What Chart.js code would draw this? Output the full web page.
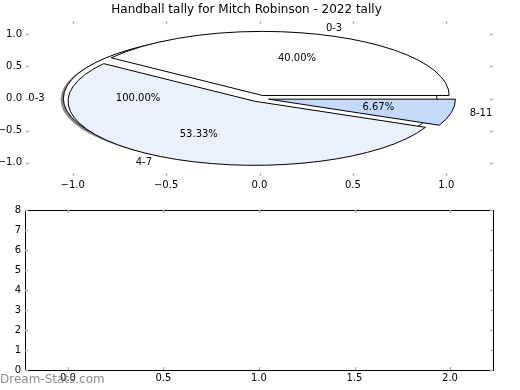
<!DOCTYPE html>
<html>
<head>
<meta charset="utf-8">
<script src="https://cdn.jsdelivr.net/npm/chart.js@4/dist/chart.umd.min.js"></script>
<style>
  body { margin: 0; background: #fff; }
  #wrap { position: relative; width: 520px; height: 390px; }
  canvas { position: absolute; left: 0; }
  #pieCanvas { top: 0; }
  #emptyCanvas { top: 200px; }
</style>
</head>
<body>
<div id="wrap">
  <canvas id="pieCanvas" width="520" height="200"></canvas>
  <canvas id="emptyCanvas" width="520" height="190"></canvas>
</div>
<script>
const titleText = 'Handball tally for Mitch Robinson - 2022 tally';
const watermarkText = 'Dream-Stats.com';

// breakdown pie
const ageLabels = ['0-3', '4-7', '8-11'];
const ageCounts = [6, 8, 1];
const ageColors = ['#ffffff', '#eaf1fd', '#c5d9fb'];

// overall pie drawn underneath
const totalLabels = ['0-3'];
const totalCounts = [15];
const totalColors = ['#ffffff'];

const pieXTicks = [-1, -0.5, 0, 0.5, 1];
const pieYTicks = [-1, -0.5, 0, 0.5, 1];
const lowerXTicks = [0, 0.5, 1, 1.5, 2];
const lowerYTicks = [0, 1, 2, 3, 4, 5, 6, 7, 8];

const FONT = 'DejaVu Sans';
const EXPLODE = 0.05;

function fmt1(v) {
  return v.toFixed(1).replace('-', '\u2212');
}

function axis(min, max, ticks, size, pad, isX, formatter) {
  return {
    type: 'linear',
    min, max,
    grid: { display: false, drawTicks: false },
    border: { display: false },
    afterBuildTicks: s => { s.ticks = ticks.map(v => ({ value: v })); },
    afterFit: s => { if (isX) s.height = size; else s.width = size; },
    ticks: {
      padding: pad,
      color: '#000',
      autoSkip: false,
      maxRotation: 0,
      font: { family: FONT, size: 10 },
      callback: v => formatter(v)
    }
  };
}

// small grey ticks pointing into the plot, on all four sides
const innerTicks = {
  id: 'innerTicks',
  afterDraw(chart) {
    const { ctx, chartArea: a, scales: { x, y } } = chart;
    ctx.save();
    ctx.strokeStyle = '#b8b8b8';
    ctx.lineWidth = 1.5;
    ctx.beginPath();
    x.ticks.forEach(t => {
      const px = Math.round(x.getPixelForValue(t.value)) + 0.5;
      ctx.moveTo(px, a.top); ctx.lineTo(px, a.top + 3);
      ctx.moveTo(px, a.bottom); ctx.lineTo(px, a.bottom - 3);
    });
    y.ticks.forEach(t => {
      const py = Math.round(y.getPixelForValue(t.value)) + 0.5;
      ctx.moveTo(a.left, py); ctx.lineTo(a.left + 3, py);
      ctx.moveTo(a.right, py); ctx.lineTo(a.right - 3, py);
    });
    ctx.stroke();
    ctx.restore();
  }
};

function buildWedges(counts, labels, colors) {
  const total = counts.reduce((a, b) => a + b, 0);
  let start = 0;
  return counts.map((v, i) => {
    const sweep = v / total * 2 * Math.PI;
    const mid = start + sweep / 2;
    const w = {
      t1: start, t2: start + sweep, mid,
      cx: EXPLODE * Math.cos(mid), cy: EXPLODE * Math.sin(mid),
      label: labels[i], pct: v / total * 100, color: colors[i]
    };
    start += sweep;
    return w;
  });
}

function wedgePath(ctx, x, y, w, dx, dy) {
  const rx = x.getPixelForValue(1) - x.getPixelForValue(0);
  const ry = y.getPixelForValue(0) - y.getPixelForValue(1);
  const px = x.getPixelForValue(w.cx + dx);
  const py = y.getPixelForValue(w.cy + dy);
  ctx.beginPath();
  const full = w.t2 - w.t1 > 2 * Math.PI - 1e-6;
  if (!full) ctx.moveTo(px, py);
  ctx.ellipse(px, py, rx, ry, 0, -w.t1, -w.t2, true);
  ctx.closePath();
}

function drawWedges(ctx, x, y, wedges, shadow) {
  wedges.forEach(w => {
    if (shadow) {
      wedgePath(ctx, x, y, w, -0.015, -0.015);
      ctx.fillStyle = 'rgba(60,60,60,0.6)';
      ctx.fill();
    }
    wedgePath(ctx, x, y, w, 0, 0);
    ctx.fillStyle = w.color;
    ctx.fill();
    ctx.strokeStyle = '#000';
    ctx.lineWidth = 1;
    ctx.stroke();
  });
}

function drawWedgeText(ctx, x, y, wedges) {
  ctx.font = '10px ' + FONT;
  ctx.fillStyle = '#000';
  ctx.textBaseline = 'middle';
  wedges.forEach(w => {
    const lx = w.cx + 1.1 * Math.cos(w.mid);
    const ly = w.cy + 1.1 * Math.sin(w.mid);
    ctx.textAlign = lx > 0 ? 'left' : 'right';
    ctx.fillText(w.label, x.getPixelForValue(lx), y.getPixelForValue(ly));
    const qx = w.cx + 0.6 * Math.cos(w.mid);
    const qy = w.cy + 0.6 * Math.sin(w.mid);
    ctx.textAlign = 'center';
    ctx.fillText(w.pct.toFixed(2) + '%', x.getPixelForValue(qx), y.getPixelForValue(qy));
  });
}

const piePlugin = {
  id: 'ellipsePie',
  afterDatasetsDraw(chart) {
    const { ctx, scales: { x, y } } = chart;
    const under = buildWedges(totalCounts, totalLabels, totalColors);
    const over = buildWedges(ageCounts, ageLabels, ageColors);
    ctx.save();
    drawWedges(ctx, x, y, under, true);
    drawWedges(ctx, x, y, over, false);
    drawWedgeText(ctx, x, y, under);
    drawWedgeText(ctx, x, y, over);
    ctx.restore();
  }
};

const framePlugin = {
  id: 'frame',
  afterDraw(chart) {
    const { ctx, chartArea: a } = chart;
    ctx.save();
    ctx.strokeStyle = '#000';
    ctx.lineWidth = 1;
    ctx.strokeRect(Math.round(a.left) + 0.5, Math.round(a.top) + 0.5,
      Math.round(a.right - a.left), Math.round(a.bottom - a.top));
    ctx.restore();
  }
};

const watermarkPlugin = {
  id: 'watermark',
  afterDraw(chart) {
    const { ctx } = chart;
    ctx.save();
    ctx.font = '12px ' + FONT;
    ctx.fillStyle = 'rgba(120,120,120,0.85)';
    ctx.textAlign = 'left';
    ctx.textBaseline = 'middle';
    ctx.fillText(watermarkText, 0, 180);
    ctx.restore();
  }
};

new Chart(document.getElementById('pieCanvas'), {
  type: 'scatter',
  data: { datasets: [] },
  options: {
    responsive: false,
    animation: false,
    devicePixelRatio: 1,
    layout: { padding: { left: 0, right: 27, top: 0, bottom: 0 } },
    plugins: {
      legend: { display: false },
      tooltip: { enabled: false },
      title: {
        display: true,
        text: titleText,
        color: '#000',
        font: { family: FONT, size: 12, weight: 'normal' },
        padding: { top: 3, bottom: 3.6 }
      }
    },
    scales: {
      x: axis(-1.25, 1.25, pieXTicks, 24, 3, true, fmt1),
      y: axis(-1.21, 1.21, pieYTicks, 26, 4, false, fmt1)
    }
  },
  plugins: [piePlugin, innerTicks]
});

new Chart(document.getElementById('emptyCanvas'), {
  type: 'scatter',
  data: { datasets: [] },
  options: {
    responsive: false,
    animation: false,
    devicePixelRatio: 1,
    layout: { padding: { left: 0, right: 27, top: 10, bottom: 0 } },
    plugins: {
      legend: { display: false },
      tooltip: { enabled: false }
    },
    scales: {
      x: axis(-0.225, 2.225, lowerXTicks, 20, 2, true, fmt1),
      y: axis(0, 8, lowerYTicks, 25, 4, false, v => String(v))
    }
  },
  plugins: [framePlugin, innerTicks, watermarkPlugin]
});
</script>
</body>
</html>
